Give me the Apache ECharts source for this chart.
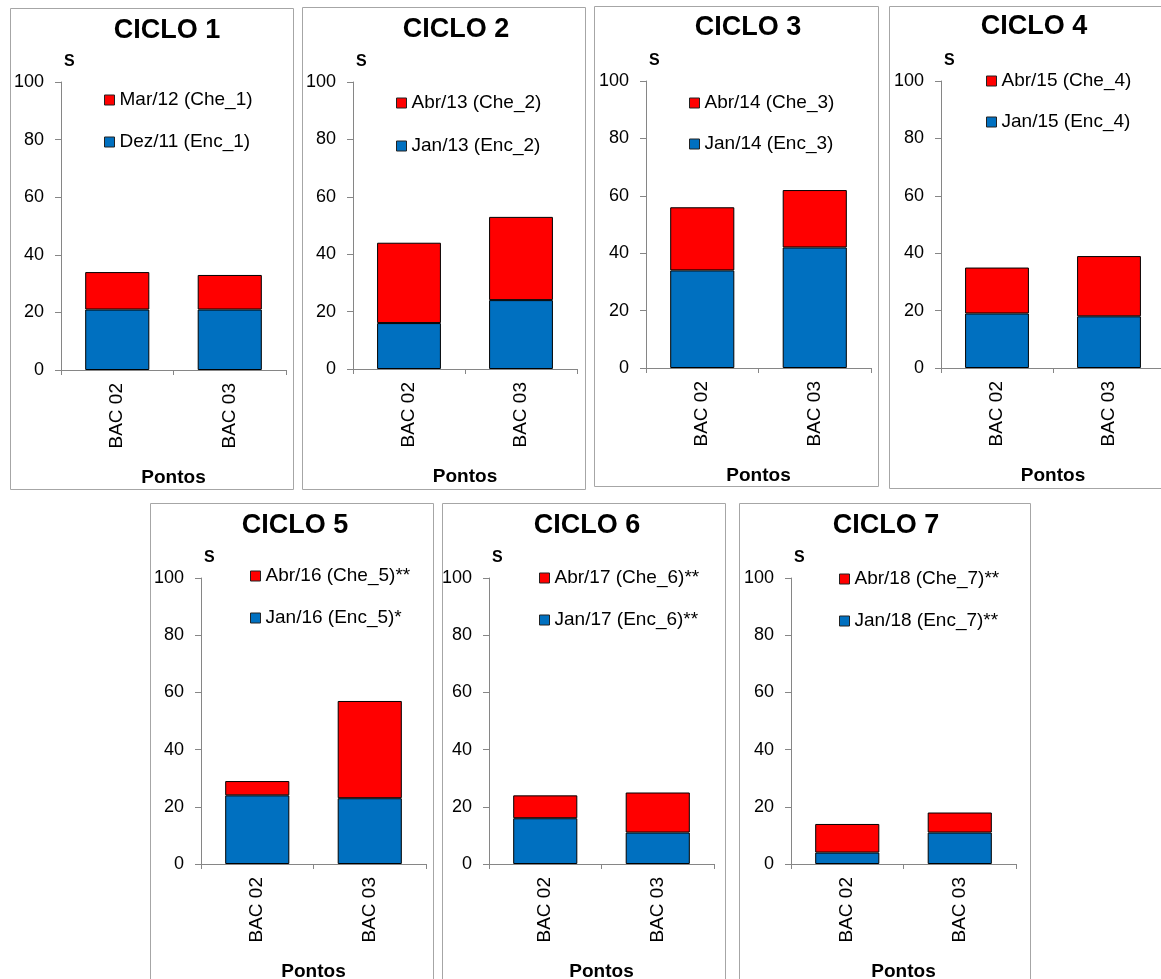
<!DOCTYPE html>
<html>
<head>
<meta charset="utf-8">
<script src="https://cdn.jsdelivr.net/npm/echarts@6/dist/echarts.min.js"></script>
<style>
html,body{margin:0;padding:0;background:#fff;overflow:hidden;}
#chart{width:1161px;height:979px;}
</style>
</head>
<body>
<div id="chart"></div>
<script>
// ---- data ----
const categories = ['BAC 02', 'BAC 03'];
const cycleTitles = ['CICLO 1', 'CICLO 2', 'CICLO 3', 'CICLO 4', 'CICLO 5', 'CICLO 6', 'CICLO 7'];
const encNames = ['Dez/11 (Enc_1)', 'Jan/13 (Enc_2)', 'Jan/14 (Enc_3)', 'Jan/15 (Enc_4)', 'Jan/16 (Enc_5)*', 'Jan/17 (Enc_6)**', 'Jan/18 (Enc_7)**'];
const cheNames = ['Mar/12 (Che_1)', 'Abr/13 (Che_2)', 'Abr/14 (Che_3)', 'Abr/15 (Che_4)', 'Abr/16 (Che_5)**', 'Abr/17 (Che_6)**', 'Abr/18 (Che_7)**'];
const encValues1 = [21, 21]; const cheValues1 = [13, 12];
const encValues2 = [16, 24]; const cheValues2 = [28, 29];
const encValues3 = [34, 42]; const cheValues3 = [22, 20];
const encValues4 = [19, 18]; const cheValues4 = [16, 21];
const encValues5 = [24, 23]; const cheValues5 = [5, 34];
const encValues6 = [16, 11]; const cheValues6 = [8, 14];
const encValues7 = [4, 11];  const cheValues7 = [10, 7];
const yTicks = [0, 20, 40, 60, 80, 100];
const yAxisName = 'S';
const xAxisName = 'Pontos';

const encAll = [encValues1, encValues2, encValues3, encValues4, encValues5, encValues6, encValues7];
const cheAll = [cheValues1, cheValues2, cheValues3, cheValues4, cheValues5, cheValues6, cheValues7];

// ---- layout (pixels) ----
const layout = [
  {box:[10,8,283,481],   grid:[61,82,225,288],  title:[167,28], legend:[104,90,22]},
  {box:[302,7,283,482],  grid:[353,82,224,287], title:[456,27], legend:[396,93,23]},
  {box:[594,6,284,480],  grid:[646,81,225,287], title:[748,25], legend:[689,93,21]},
  {box:[889,6,300,482],  grid:[941,81,224,287], title:[1034,24], legend:[986,71,21]},
  {box:[150,503,283,500],grid:[201,578,225,286],title:[295,523], legend:[250,566,22]},
  {box:[442,503,283,500],grid:[489,578,225,286],title:[587,523], legend:[539,568,22]},
  {box:[739,503,291,500],grid:[791,578,225,286],title:[886,523], legend:[839,569,22]}
];

const BLUE = '#0070C0', RED = '#FF0000', AXIS = '#868686', FONT = 'Liberation Sans, Arial, sans-serif';

const grids = [], xAxes = [], yAxes = [], series = [], legends = [], titles = [], graphics = [];
layout.forEach((L, i) => {
  graphics.push({type:'rect', silent:true, z:-1,
    shape:{x:L.box[0]+0.5, y:L.box[1]+0.5, width:L.box[2], height:L.box[3]},
    style:{fill:'#fff', stroke:'#a6a6a6', lineWidth:1}});
  grids.push({left:L.grid[0], top:L.grid[1], width:L.grid[2], height:L.grid[3],
    containLabel:false, outerBoundsMode:'none'});
  xAxes.push({type:'category', gridIndex:i, data:categories,
    axisLine:{show:true, lineStyle:{color:AXIS, width:1}},
    axisTick:{show:true, alignWithLabel:false, length:5, lineStyle:{color:AXIS}},
    axisLabel:{rotate:90, margin:13, color:'#000', fontSize:19, fontFamily:FONT},
    name:xAxisName, nameLocation:'middle', nameGap:98,
    nameTextStyle:{color:'#000', fontWeight:'bold', fontSize:19, fontFamily:FONT},
    splitLine:{show:false}});
  yAxes.push({type:'value', gridIndex:i, min:yTicks[0], max:yTicks[yTicks.length-1], interval:yTicks[1]-yTicks[0],
    axisLine:{show:true, lineStyle:{color:AXIS, width:1}},
    axisTick:{show:true, length:6, lineStyle:{color:AXIS}},
    axisLabel:{margin:17, color:'#000', fontSize:18, fontFamily:FONT},
    splitLine:{show:false},
    name:yAxisName, nameLocation:'end', nameGap:20,
    nameTextStyle:{color:'#000', fontWeight:'bold', fontSize:16, fontFamily:FONT, align:'left', verticalAlign:'middle', padding:[0,0,0,3]}});
  series.push({type:'bar', name:encNames[i], stack:'s'+i, xAxisIndex:i, yAxisIndex:i, data:encAll[i],
    barWidth:'57%', itemStyle:{color:BLUE, borderColor:'#000', borderWidth:1}, emphasis:{disabled:true}});
  series.push({type:'bar', name:cheNames[i], stack:'s'+i, xAxisIndex:i, yAxisIndex:i, data:cheAll[i],
    barWidth:'57%', itemStyle:{color:RED, borderColor:'#000', borderWidth:1}, emphasis:{disabled:true}});
  legends.push({orient:'vertical', left:L.legend[0], top:L.legend[1], itemGap:L.legend[2], padding:0,
    itemWidth:10, itemHeight:10, icon:'rect', selectedMode:false,
    data:[cheNames[i], encNames[i]],
    itemStyle:{borderColor:'#222', borderWidth:1},
    textStyle:{color:'#000', fontSize:19, fontFamily:FONT, lineHeight:20, padding:[0,0,0,0]}});
  titles.push({text:cycleTitles[i], left:L.title[0], top:L.title[1]-13, textAlign:'center', padding:0,
    textStyle:{color:'#000', fontWeight:'bold', fontSize:27, fontFamily:FONT, lineHeight:32}});
});

const chart = echarts.init(document.getElementById('chart'), null, {renderer:'canvas'});
chart.setOption({
  animation:false,
  backgroundColor:'#fff',
  title:titles,
  legend:legends,
  grid:grids,
  xAxis:xAxes,
  yAxis:yAxes,
  series:series,
  graphic:{elements:graphics}
});
</script>
</body>
</html>
